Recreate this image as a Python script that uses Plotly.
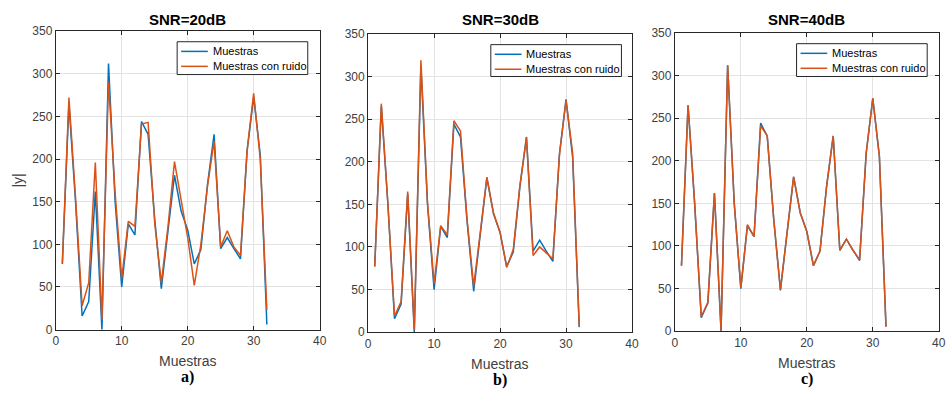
import plotly.graph_objects as go

# ---------------- data ----------------
muestras_x = list(range(1, 33))
muestras = [77, 265, 150, 16, 33, 162, 0, 312, 150, 50, 124, 111, 244, 229, 130, 48,
            115, 181, 139, 117, 77, 94, 170, 229, 95, 108, 95, 83, 209, 273, 205, 6]
ruido_20 = [78, 272, 155, 28, 55, 196, 12, 291, 160, 60, 127, 121, 241, 243, 125, 55,
            120, 197, 152, 108, 52, 100, 168, 221, 97, 116, 97, 87, 210, 277, 200, 23]
ruido_30 = [77, 268, 150, 19, 36, 165, 3, 319, 152, 57, 125, 114, 248, 236, 132, 54,
            117, 182, 140, 117, 76, 97, 172, 228, 90, 100, 93, 86, 208, 272, 210, 7]
ruido_40 = [77, 265, 150, 17, 34, 162, 1, 312, 150, 51, 125, 111, 241, 229, 130, 49,
            115, 181, 139, 117, 77, 94, 170, 229, 95, 108, 95, 84, 209, 273, 205, 5]
titles = ["SNR=20dB", "SNR=30dB", "SNR=40dB"]
panel_labels = ["a)", "b)", "c)"]
x_ticks = [0, 10, 20, 30, 40]
y_ticks = [0, 50, 100, 150, 200, 250, 300, 350]
series_names = ["Muestras", "Muestras con ruido"]

# ---------------- layout geometry ----------------
W, H = 952, 401
panels = [  # (x0, x1, ytop, ybottom) in pixels
    (53.3, 320.0, 25.0, 334.3),
    (369.0, 635.7, 27.7, 337.0),
    (679.0, 945.7, 26.7, 336.0),
]
legend_boxes = [(176, 308, 36, 70), (493, 625, 39, 72), (802, 934, 38, 72)]  # l, r, top, bottom px

BLUE = "#0072BD"
ORANGE = "#D95319"
AX = "#262626"
FONT = "Liberation Sans, Arial, sans-serif"


def px(xp):
    return xp / W


def py(yp):
    return 1 - yp / H


fig = go.Figure()
noisy = [ruido_20, ruido_30, ruido_40]
for i in range(3):
    sfx = "" if i == 0 else str(i + 1)
    fig.add_trace(go.Scatter(x=muestras_x, y=muestras, mode="lines", name=series_names[0],
                             line=dict(color=BLUE, width=1.5), xaxis="x" + sfx, yaxis="y" + sfx,
                             showlegend=False))
    fig.add_trace(go.Scatter(x=muestras_x, y=noisy[i], mode="lines", name=series_names[1],
                             line=dict(color=ORANGE, width=1.5), xaxis="x" + sfx, yaxis="y" + sfx,
                             showlegend=False))

layout = dict(
    width=W, height=H, autosize=False, margin=dict(l=0, r=0, t=0, b=0, pad=0),
    paper_bgcolor="white", plot_bgcolor="white",
    font=dict(family=FONT, color="#404040", size=12),
    annotations=[], shapes=[], showlegend=False,
)
for i, (x0, x1, yt, yb) in enumerate(panels):
    sfx = "" if i == 0 else str(i + 1)
    common_axis = dict(showline=True, linecolor=AX, linewidth=1, mirror="ticks",
                       ticks="inside", ticklen=4, tickcolor=AX,
                       showgrid=True, gridcolor="#e3e3e3", gridwidth=1,
                       zeroline=False, tickfont=dict(size=12, color="#404040"))
    layout["xaxis" + sfx] = dict(domain=[px(x0), px(x1)], range=[0, 40], tickvals=x_ticks,
                                 anchor="y" + sfx, **common_axis)
    layout["yaxis" + sfx] = dict(domain=[py(yb), py(yt)], range=[0, 350],
                                 tickvals=y_ticks, anchor="x" + sfx, **common_axis)
    cx = (x0 + x1) / 2
    layout["annotations"] += [
        dict(text=f"<b>{titles[i]}</b>", x=px(cx), y=py(13), xref="paper", yref="paper",
             showarrow=False, font=dict(size=15, color="#000000"), xanchor="center", yanchor="middle"),
        dict(text="Muestras", x=px(cx), y=py(yb + 33), xref="paper", yref="paper",
             showarrow=False, font=dict(size=14, color="#404040"), xanchor="center", yanchor="middle"),
        dict(text=f"<b>{panel_labels[i]}</b>", x=px(cx), y=py(yb + 49), xref="paper", yref="paper",
             showarrow=False, font=dict(size=16, color="#000000", family="Liberation Serif, Times New Roman, serif"),
             xanchor="center", yanchor="middle"),
    ]
    # legend box (drawn manually to match MATLAB's compact legend)
    ll, lr, lt, lb = legend_boxes[i]
    layout["shapes"].append(dict(type="rect", xref="paper", yref="paper",
                                 x0=px(ll), x1=px(lr), y0=py(lb), y1=py(lt),
                                 line=dict(color=AX, width=1), fillcolor="white", layer="above"))
    for k, (col, name) in enumerate(zip([BLUE, ORANGE], series_names)):
        ry = lt + 10 + k * 15.5
        layout["shapes"].append(dict(type="line", xref="paper", yref="paper",
                                     x0=px(ll + 4), x1=px(ll + 31), y0=py(ry), y1=py(ry),
                                     line=dict(color=col, width=1.5), layer="above"))
        layout["annotations"].append(dict(text=name, x=px(ll + 34), y=py(ry), xref="paper", yref="paper",
                                          showarrow=False, xanchor="left", yanchor="middle",
                                          font=dict(size=11, color="#000000")))

layout["annotations"].append(dict(text="|y|", x=px(15), y=py(180), xref="paper", yref="paper",
                                  showarrow=False, textangle=-90,
                                  font=dict(size=14, color="#404040"), xanchor="center", yanchor="middle"))
fig.update_layout(**layout)
fig.write_html("out.html")
